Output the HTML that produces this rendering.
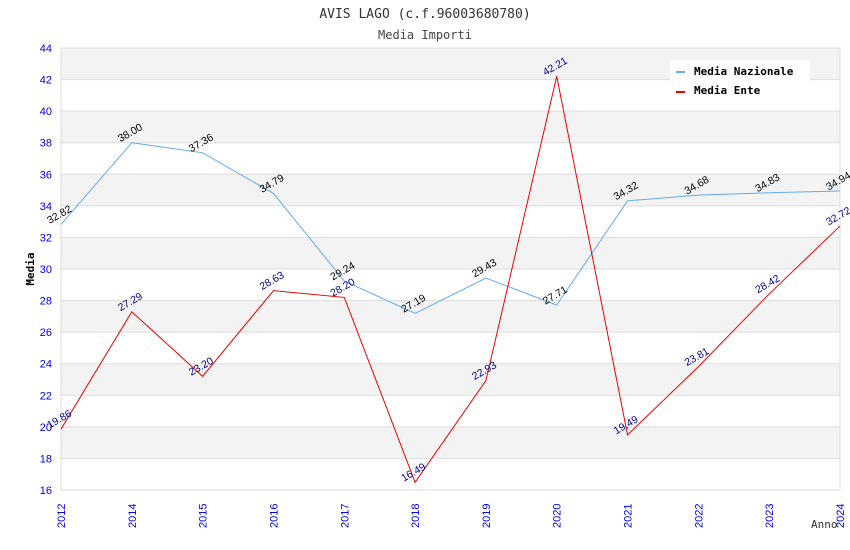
<!DOCTYPE html>
<html><head><meta charset="utf-8"><style>
body{margin:0;background:#fff;}
svg{display:block;font-family:"DejaVu Sans Mono","Liberation Mono",monospace;}
.s{font-family:"Liberation Sans",sans-serif;}
</style></head><body>
<svg id="c" width="850" height="550">
<text x="425" y="18" text-anchor="middle" font-size="13" fill="#333">AVIS LAGO (c.f.96003680780)</text>
<text x="425" y="39" text-anchor="middle" font-size="12" fill="#444">Media Importi</text>
<g id="grid"></g><g id="series"></g>
<text transform="translate(34,269) rotate(-90)" text-anchor="middle" font-size="11" font-weight="bold" fill="#000">Media</text>
<text x="811" y="528" font-size="11" fill="#333">Anno</text>
<rect x="670" y="60" width="140" height="45" fill="#fff"/>
<rect x="676" y="71" width="9" height="2" fill="#66aaee"/>
<text x="694" y="75" font-size="11" font-weight="bold" fill="#000">Media Nazionale</text>
<rect x="676" y="91" width="9" height="2" fill="#ee0000"/>
<text x="694" y="94" font-size="11" font-weight="bold" fill="#000">Media Ente</text>
</svg>
<script>
const categories=["2012","2014","2015","2016","2017","2018","2019","2020","2021","2022","2023","2024"];
const nazionale=[32.82,38.00,37.36,34.79,29.24,27.19,29.43,27.71,34.32,34.68,34.83,34.94];
const ente=[19.86,27.29,23.20,28.63,28.20,16.49,22.93,42.21,19.49,23.81,28.42,32.72];
const yTicks=[16,18,20,22,24,26,28,30,32,34,36,38,40,42,44];
const NS="http://www.w3.org/2000/svg";
const L=61,R=840,T=48,B=490,yMin=16,yMax=44;
const xs=i=>L+i*(R-L)/(categories.length-1);
const ys=v=>B-(v-yMin)/(yMax-yMin)*(B-T);
function mk(t,a,p){const e=document.createElementNS(NS,t);for(const k in a)e.setAttribute(k,a[k]);p.appendChild(e);return e;}
const g=document.getElementById('grid'),s=document.getElementById('series');
for(let i=0;i<yTicks.length-1;i++){
 if((yTicks.length-2-i)%2===0){const r=mk('rect',{x:L,y:ys(yTicks[i+1]),width:R-L,height:ys(yTicks[i])-ys(yTicks[i+1]),fill:'#f3f3f3'},g);
 
 }
}
yTicks.forEach(v=>{
 const l=mk('line',{x1:L,x2:R,y1:ys(v),y2:ys(v),stroke:'#dddddd'},g);
 
 
 const t=mk('text',{x:52,y:ys(v)+4,'text-anchor':'end','font-size':11,fill:'#0000ee',class:'s'},g);t.textContent=v;
 
 
});
const ax=mk('rect',{x:L,y:T,width:R-L,height:B-T,fill:'none',stroke:'#dddddd'},g);


categories.forEach((c,i)=>{
 const t=mk('text',{transform:`translate(${xs(i)+4},${B+38}) rotate(-90)`,'font-size':11,fill:'#0000ee',class:'s'},g);t.textContent=c;
 
 
});
function draw(data,color,lab,name){
 const p=mk('polyline',{points:data.map((v,i)=>xs(i)+','+ys(v)).join(' '),fill:'none',stroke:color,'stroke-width':1},s);
 
 
 data.forEach((v,i)=>{
  const t=mk('text',{transform:`translate(${xs(i)},${ys(v)-7}) rotate(-30)`,'text-anchor':'middle','font-size':10.5,fill:lab,class:'s'},s);t.textContent=v.toFixed(2);
  
  
 });
}
draw(nazionale,'#66aaee','#000','nazionale');
draw(ente,'#ee0000','#000088','ente');
</script>
</body></html>
